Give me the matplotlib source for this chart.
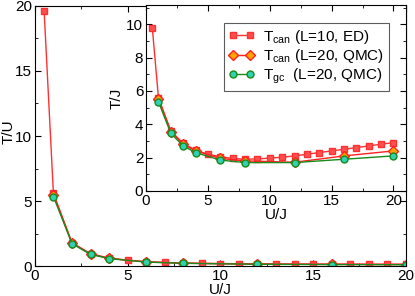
import numpy as np
from matplotlib import pyplot as plt
from matplotlib.ticker import MultipleLocator

plt.rcParams['font.family'] = ['Liberation Sans', 'DejaVu Sans']
plt.rcParams['mathtext.fontset'] = 'custom'
plt.rcParams['mathtext.rm'] = 'Liberation Sans'
plt.rcParams['mathtext.it'] = 'Liberation Sans'

# exact diagonalization, L=10, canonical
u_ed = np.array([0.5, 1, 2, 3, 4, 5, 6, 7, 8, 9, 10, 11, 12, 13, 14, 15,
                 16, 17, 18, 19, 20])
t_ed = np.array([9.8, 5.6, 3.6, 2.85, 2.45, 2.2, 2.05, 1.95, 1.9, 1.92,
                 1.97, 2.02, 2.1, 2.2, 2.3, 2.4, 2.5, 2.6, 2.7, 2.8, 2.9])

# QMC, L=20
u_qmc = np.array([1, 2, 3, 4, 6, 8, 12, 16, 20])
t_can = np.array([5.5, 3.55, 2.8, 2.4, 1.95, 1.8, 1.72, 2.1, 2.4])
t_gc = np.array([5.35, 3.45, 2.7, 2.3, 1.85, 1.7, 1.7, 1.9, 2.1])

labels = [r'$\mathrm{T_{can}}$ (L=10, ED)', r'$\mathrm{T_{can}}$ (L=20, QMC)',
          r'$\mathrm{T_{gc}}$  (L=20, QMC)']

sty_ed = dict(color='#ff3030', marker='s', ms=4.5, mfc='#ff5050',
              mec='#ff3030', lw=1.0)
sty_can = dict(color='#ff2020', marker='D', ms=5.5, mfc='#ffa500',
               mec='#ff2020', lw=1.0)
sty_gc = dict(color='#1a8a1a', marker='o', ms=5, mfc='#30d0b0',
              mec='#1a8a1a', lw=1.0)


def style(ax, fs=11):
    ax.tick_params(which='both', direction='in', top=True, right=True,
                   labelsize=fs, pad=2)
    ax.tick_params(which='major', length=4)
    ax.tick_params(which='minor', length=2)


fig = plt.figure(figsize=(4.15, 2.96), dpi=100)

# main: T/U vs U/J
ax = fig.add_axes([0.084, 0.101, 0.894, 0.879])
ax.plot(u_ed, t_ed / u_ed, **sty_ed)
ax.plot(u_qmc, t_can / u_qmc, **sty_can)
ax.plot(u_qmc, t_gc / u_qmc, **sty_gc)
ax.set_xlim(0, 20)
ax.set_ylim(0, 20)
ax.xaxis.set_major_locator(MultipleLocator(5))
ax.xaxis.set_minor_locator(MultipleLocator(2.5))
ax.yaxis.set_major_locator(MultipleLocator(5))
ax.yaxis.set_minor_locator(MultipleLocator(2.5))
ax.set_xlabel('U/J', fontsize=11, labelpad=0)
style(ax)
fig.text(2 / 415, 1 - 132 / 296, 'T/U', fontsize=11, rotation=90,
         ha='left', va='center')

# inset: T/J vs U/J
axi = fig.add_axes([0.352, 0.355, 0.626, 0.628])
axi.plot(u_ed, t_ed, label=labels[0], **sty_ed)
axi.plot(u_qmc, t_can, label=labels[1], **sty_can)
axi.plot(u_qmc, t_gc, label=labels[2], **sty_gc)
axi.set_xlim(0, 21)
axi.set_ylim(0, 11.15)
axi.xaxis.set_major_locator(MultipleLocator(5))
axi.xaxis.set_minor_locator(MultipleLocator(2.5))
axi.yaxis.set_major_locator(MultipleLocator(2))
axi.yaxis.set_minor_locator(MultipleLocator(1))
axi.set_xlabel('U/J', fontsize=11, labelpad=0)
axi.set_ylabel('T/J', fontsize=11, labelpad=2)
style(axi)
leg = axi.legend(loc='upper right', bbox_to_anchor=(0.935, 0.903), fontsize=11,
                 frameon=True, fancybox=False, edgecolor='#333333',
                 numpoints=2, handlelength=1.7, borderpad=0.3,
                 labelspacing=0.1, handletextpad=0.6, borderaxespad=0)
leg.get_frame().set_linewidth(0.8)

fig.savefig('out.png', dpi=100)
